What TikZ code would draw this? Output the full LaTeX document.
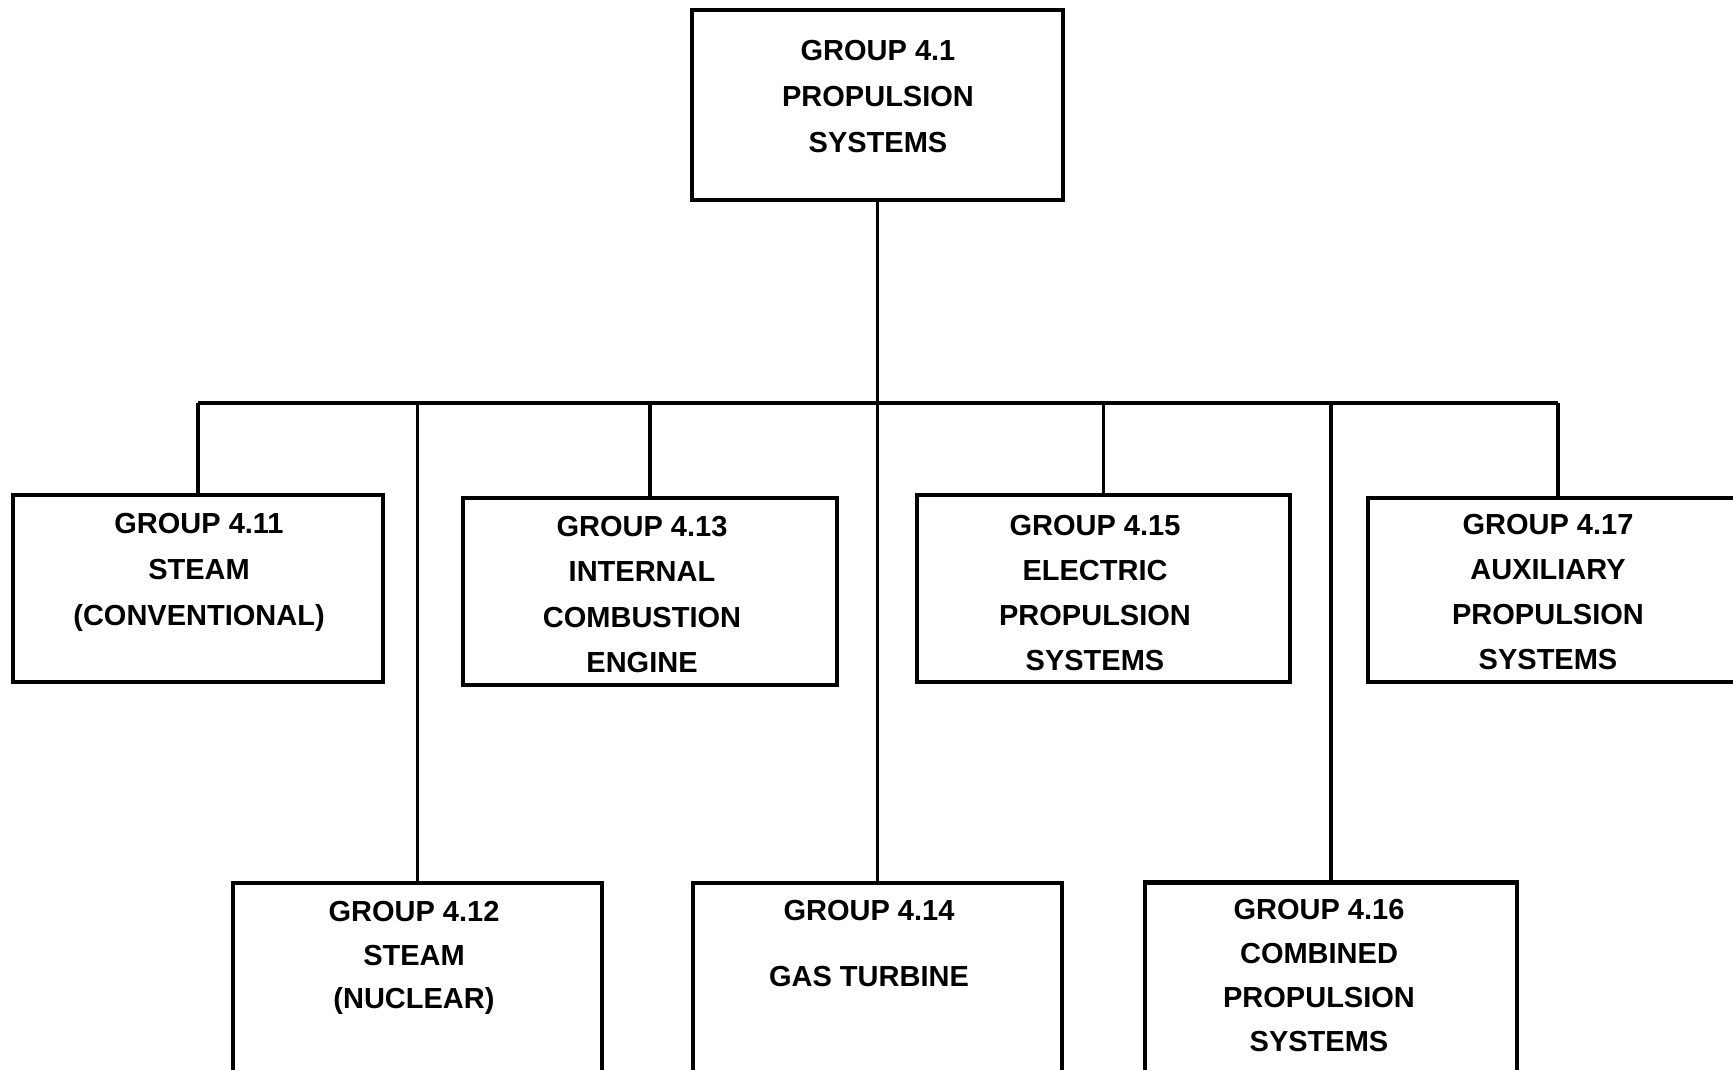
\documentclass[tikz,border=0pt]{standalone}
\usepackage{fontspec}
\setmainfont{Liberation Sans}
\begin{document}
\begin{tikzpicture}[x=1pt,y=-1pt,
  box/.style={draw,line width=4.8pt,rectangle,inner sep=0pt},
  txt/.style={align=center,inner sep=0pt,font=\bfseries\fontsize{29}{46}\selectfont},
  conn/.style={line width=3.4pt}]
\useasboundingbox (0,0) rectangle (1733,1069);
% boxes
\node[box,minimum width=371pt,minimum height=190pt] (top) at (877.5,105) {};
\node[box,minimum width=370pt,minimum height=187pt] (b411) at (198,588.5) {};
\node[box,minimum width=374pt,minimum height=187pt] (b413) at (650,591.5) {};
\node[box,minimum width=373pt,minimum height=187pt] (b415) at (1103.5,588.5) {};
\node[box,minimum width=380pt,minimum height=184pt] (b417) at (1558,590) {};
\node[box,minimum width=369pt,minimum height=217pt] (b412) at (417.5,991.5) {};
\node[box,minimum width=369pt,minimum height=217pt] (b414) at (877.5,991.5) {};
\node[box,minimum width=372pt,minimum height=217pt] (b416) at (1331,991) {};
% texts
\node[txt] (t41) at (878,97) {GROUP 4.1\\PROPULSION\\SYSTEMS};
\node[txt] (t411) at (199,572) {GROUP 4.11\\STEAM\\(CONVENTIONAL)};
\node[txt,font=\bfseries\fontsize{29}{45.5}\selectfont] (t413) at (642,594.5) {GROUP 4.13\\INTERNAL\\COMBUSTION\\ENGINE};
\node[txt,font=\bfseries\fontsize{29}{45}\selectfont] (t415) at (1095,593) {GROUP 4.15\\ELECTRIC\\PROPULSION\\SYSTEMS};
\node[txt,font=\bfseries\fontsize{29}{45}\selectfont] (t417) at (1548,592) {GROUP 4.17\\AUXILIARY\\PROPULSION\\SYSTEMS};
\node[txt,font=\bfseries\fontsize{29}{43.6}\selectfont] (t412) at (414,958) {GROUP 4.12\\STEAM\\(NUCLEAR)};
\node[txt,font=\bfseries\fontsize{29}{66}\selectfont] (t414) at (869,944) {GROUP 4.14\\GAS TURBINE};
\node[txt,font=\bfseries\fontsize{29}{44}\selectfont] (t416) at (1319,976) {GROUP 4.16\\COMBINED\\PROPULSION\\SYSTEMS};
% connectors
\coordinate (busL) at (198,403);
\coordinate (busR) at (1558,403);
\draw[conn] (busL) -- (busR);
\draw[conn] (top.south) -- (b414.north);
\draw[conn] (b411.north) -- (b411.north |- busL);
\draw[conn] (b412.north) -- (b412.north |- busL);
\draw[conn] (b413.north) -- (b413.north |- busL);
\draw[conn] (b415.north) -- (b415.north |- busL);
\draw[conn] (b416.north) -- (b416.north |- busL);
\draw[conn] (b417.north) -- (b417.north |- busL);
\end{tikzpicture}
\end{document}
